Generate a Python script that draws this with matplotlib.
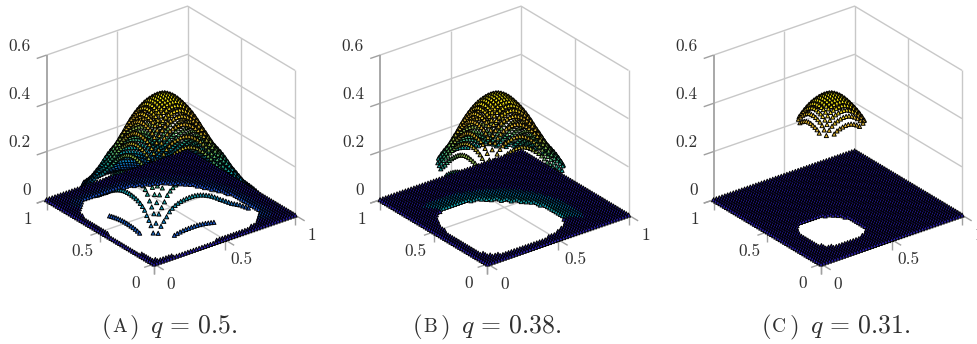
import numpy as np, matplotlib
matplotlib.use("Agg")
import matplotlib.pyplot as plt
from matplotlib.colors import LinearSegmentedColormap
from mpl_toolkits.mplot3d import proj3d
plt.rcParams["font.family"]=["cmr10","DejaVu Sans"]; plt.rcParams["mathtext.fontset"]="cm"

# height profile read along one side of the box, x = 0, 0.02, ... 1
profile=[0,.16,.37,.50,.62,.70,.77,.85,.90,.935,.96,.978,.988,.995,1,1,.996,.985,.97,.95,.925,.897,.866,.83,.79,.745,
         .71,.67,.63,.59,.56,.53,.50,.46,.42,.38,.35,.316,.28,.25,.22,.195,.175,.155,.135,.11,.09,.066,.045,.022,0]
peak=0.565
# per panel: height below which the points sit on the floor
levels=[0.078,0.224,0.45]
tinted=[True,True,False]
captions=["A","B","C"]; qs=["0.5","0.38","0.31"]
front_px=[154,487.5,821]; cap_x=[102,413,762]; q_x=[150,461,810]
ticks=[0,.5,1]; zticks=[0,.2,.4,.6]
W,H=978,344
parula=LinearSegmentedColormap.from_list("parula",["#2c1fb0","#1a5ad0","#0a8ec8","#18b0a0","#70bf60","#d0b028","#f0c030","#f8f010"])
GRID="#c8c8c8"; TICK="#a0a0a0"; TXT="#303030"

xs=np.linspace(0,1,len(profile)); X,Y=np.meshgrid(xs,xs); p=np.array(profile)
Z=peak*np.outer(p,p)
xf,yf,zf=X.ravel(),Y.ravel(),Z.ravel()

fig=plt.figure(figsize=(W/100,H/100),dpi=100)
aspect=(1,1,0.917)
for i in range(3):
    S=340
    ax=fig.add_axes([(front_px[i]+17-S/2)/W,2/H,S/W,S/H],projection="3d",proj_type="ortho",computed_zorder=False)
    ax.set_xlim(0,1); ax.set_ylim(0,1); ax.set_zlim(0,.6); ax.view_init(elev=27.1,azim=-127.3)
    ax.set_box_aspect(aspect); ax.set_axis_off(); ax.patch.set_visible(False)
    ax.set_xticks([]); ax.set_yticks([]); ax.set_zticks([])
    # scale and shift so the box lands on the reference corners
    def px(x,y,z):
        u,v,_=proj3d.proj_transform(x,y,z,ax.get_proj()); return ax.transData.transform((u,v))
    zoom=141/(px(1,0,0)-px(0,0,0))[0]
    ax.set_box_aspect(aspect,zoom=zoom)
    off=np.array([front_px[i],H-264])-px(0,0,0)
    pos=ax.get_position(); ax.set_position([pos.x0+off[0]/W,pos.y0+off[1]/H,pos.width,pos.height])

    def ln(x,y,z,col=GRID,lw=1.0):
        ax.plot(x,y,z,color=col,lw=lw,zorder=1,solid_capstyle="butt")
    for z in [.2,.4,.6]:
        ln([0,1,1],[1,1,0],[z,z,z])
    ln([.5,.5],[1,1],[0,.6]); ln([1,1],[.5,.5],[0,.6]); ln([1,1],[1,1],[0,.6]); ln([1,1],[0,0],[0,.6])
    ln([.5,.5],[0,1],[0,0]); ln([0,1],[.5,.5],[0,0])
    ln([0,0],[1,1],[0,.6],"#a8a8a8",1.4)
    for z in zticks:
        ln([0,-.07],[1,1],[z,z],TICK)
    for t in ticks:
        ln([0,-.07],[t,t],[0,0],TICK); ln([0,0],[t,t],[0,-.042],TICK)
        ln([t,t],[0,-.09],[0,0],TICK); ln([t,t],[0,0],[0,-.042],TICK)

    lifted=zf>=levels[i]
    kw=dict(marker="^",s=9,cmap=parula,vmin=0,vmax=peak,edgecolors="k",linewidths=.68,depthshade=False)
    ax.scatter(xf[lifted],yf[lifted],zf[lifted],c=zf[lifted],zorder=2,**kw)
    tint=np.where((xf+yf>.9)&(zf>levels[i]*.5)&tinted[i],zf,0)
    ax.scatter(xf[~lifted],yf[~lifted],0*zf[~lifted],c=tint[~lifted],zorder=3,**kw)

    def lab(x,y,z,s,ha="center"):
        u=px(x,y,z); fig.text(u[0]/W,u[1]/H,s,fontsize=12.5,color=TXT,ha=ha,va="center")
    for t,s in zip(ticks,["0","0.5","1"]):
        lab(-.13,t,-.054,s); lab(t,-.16,-.04,s)
    for z,s in zip(zticks,["0","0.2","0.4","0.6"]):
        lab(-.072,1.055,z+.037,s,"right")

    y=1-327/H
    fig.text(cap_x[i]/W,y,"(",fontsize=18,color=TXT,va="center",ha="left")
    fig.text((cap_x[i]+10)/W,y,captions[i],fontsize=14,color=TXT,va="center",ha="left")
    fig.text((cap_x[i]+28)/W,y,")",fontsize=18,color=TXT,va="center",ha="left")
    fig.text(q_x[i]/W,y,"$q\\,=\\,%s.$"%qs[i],fontsize=18.5,color=TXT,va="center",ha="left")

fig.savefig("out.png",dpi=100)
